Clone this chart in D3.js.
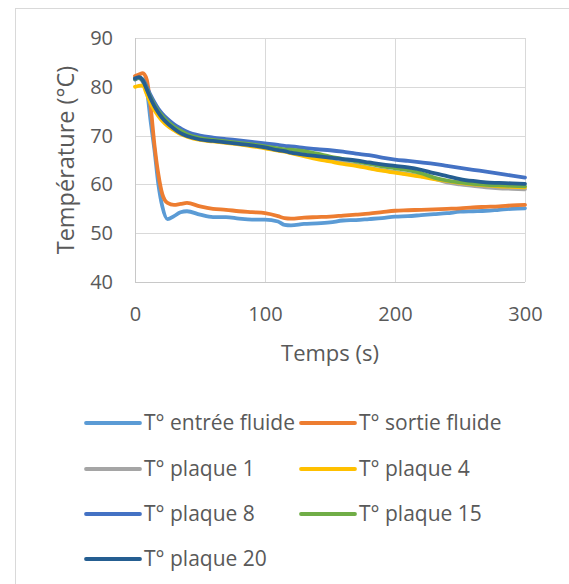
<!DOCTYPE html>
<html><head><meta charset="utf-8">
<script src="https://cdn.jsdelivr.net/npm/d3@7"></script>
<style>
body{margin:0;background:#fff;}
text{font-family:"Open Sans","Noto Sans",sans-serif;fill:#595959;}
</style></head>
<body><svg id="c" width="569" height="584"></svg>
<script>
const times = [0,3,6,9,12,15,18,21,25,30,35,40,50,60,70,80,90,100,110,115,120,130,140,150,160,170,180,190,200,210,220,230,240,250,260,270,280,290,300];
const entreeFluide = [81.8,82,81.5,79.5,73,67,60,55.5,52.9,53.5,54.3,54.5,53.8,53.3,53.3,53.0,52.8,52.8,52.4,51.7,51.6,51.9,52.0,52.2,52.6,52.7,52.9,53.1,53.4,53.5,53.7,53.9,54.1,54.4,54.5,54.6,54.8,55.0,55.1];
const sortieFluide = [82.2,82.5,82.8,81.5,76,68,62,58,56.2,55.8,56.0,56.2,55.5,55.0,54.8,54.5,54.3,54.1,53.5,53.1,53.0,53.2,53.3,53.4,53.6,53.8,54.0,54.3,54.6,54.7,54.8,54.9,55.0,55.1,55.3,55.4,55.5,55.7,55.8];
const plaque1 = [81.7,81.8,81,79,77.2,75.8,74.6,73.6,72.5,71.5,70.6,70.0,69.2,68.9,68.6,68.3,68.0,67.5,67.0,66.8,66.5,66.0,65.4,64.8,64.4,64.0,63.4,62.9,62.5,62.1,61.7,61.2,60.4,60.0,59.7,59.4,59.2,59.1,59.0];
const plaque4 = [80,80.2,80.3,78.5,76.6,75.2,74,73,72,71.1,70.3,69.8,69.1,68.8,68.5,68.2,67.8,67.4,66.9,66.7,66.4,65.8,65.2,64.7,64.2,63.8,63.3,62.8,62.4,62.0,61.6,61.1,60.7,60.3,60.0,59.8,59.6,59.5,59.4];
const plaque8 = [81.5,81.8,81.5,80,78.3,76.8,75.5,74.5,73.4,72.3,71.5,70.8,70.0,69.6,69.3,69.0,68.7,68.4,68.1,67.9,67.8,67.5,67.2,67.0,66.7,66.3,66.0,65.5,65.1,64.8,64.5,64.2,63.8,63.4,63.0,62.6,62.2,61.8,61.4];
const plaque15 = [81.6,81.9,81.3,79.6,77.8,76.3,75,74,72.9,71.8,71,70.3,69.5,69.1,68.8,68.5,68.2,67.8,67.4,67.2,67.1,66.8,66.3,65.7,65.2,64.7,64.2,63.7,63.3,62.9,62.3,61.4,60.8,60.4,60.1,59.9,59.8,59.7,59.6];
const plaque20 = [81.7,82,81.3,79.5,77.6,76,74.7,73.6,72.5,71.4,70.5,69.9,69.2,68.9,68.6,68.3,68.0,67.6,67.0,66.8,66.5,66.1,65.8,65.5,65.2,64.9,64.5,64.1,63.8,63.5,63.0,62.3,61.7,61.1,60.7,60.4,60.3,60.2,60.1];
const seriesNames = ["T° entrée fluide","T° sortie fluide","T° plaque 1","T° plaque 4","T° plaque 8","T° plaque 15","T° plaque 20"];
const seriesValues = [entreeFluide,sortieFluide,plaque1,plaque4,plaque8,plaque15,plaque20];
const colors = ["#5B9BD5","#ED7D31","#A5A5A5","#FFC000","#4472C4","#70AD47","#255E91"];
const xTicks = [0,100,200,300];
const yTicks = [40,50,60,70,80,90];
const xTitle = "Temps (s)";
const yTitle = "Température (°C)";

const svg = d3.select("#c");
svg.append("rect").attr("x",15.5).attr("y",8.5).attr("width",600).attr("height",600)
  .attr("fill","#fff").attr("stroke","#d9d9d9").attr("stroke-width",1);

const L=135, R=525, T=38, B=282;
const x = d3.scaleLinear().domain([0,300]).range([L,R]);
const y = d3.scaleLinear().domain([40,90]).range([B,T]);

const g = svg.append("g");
g.selectAll(".gy").data(yTicks).join("line")
  .attr("x1",L).attr("x2",R).attr("y1",d=>Math.round(y(d))+0.5).attr("y2",d=>Math.round(y(d))+0.5)
  .attr("stroke","#d9d9d9").attr("stroke-width",1);
g.selectAll(".gx").data(xTicks).join("line")
  .attr("y1",T).attr("y2",B).attr("x1",d=>Math.round(x(d))+0.5).attr("x2",d=>Math.round(x(d))+0.5)
  .attr("stroke","#d9d9d9").attr("stroke-width",1);
g.append("line").attr("x1",L+0.5).attr("x2",L+0.5).attr("y1",T).attr("y2",B).attr("stroke","#c8c8c8");
g.append("line").attr("x1",L).attr("x2",R).attr("y1",B+0.5).attr("y2",B+0.5).attr("stroke","#c8c8c8");

const yAxis = d3.axisLeft(y).tickValues(yTicks).tickSize(0).tickPadding(22);
const ya = svg.append("g").attr("transform",`translate(${L},0)`).call(yAxis);
const xAxis = d3.axisBottom(x).tickValues(xTicks).tickSize(0).tickPadding(25);
const xa = svg.append("g").attr("transform",`translate(0,${B})`).call(xAxis);
[ya,xa].forEach(a=>{a.select(".domain").remove();a.selectAll("text").style("font-size","20px").attr("fill","#595959");});

const line = d3.line().x((d,i)=>x(times[i])).y(d=>y(d)).curve(d3.curveMonotoneX);
svg.append("g").selectAll("path").data(seriesValues).join("path")
  .attr("d",d=>line(d)).attr("fill","none").attr("stroke",(d,i)=>colors[i])
  .attr("stroke-width",3.8).attr("stroke-linejoin","round").attr("stroke-linecap","round");

svg.append("text").attr("x",(L+R)/2).attr("y",361).attr("text-anchor","middle")
  .style("font-size","22px").text(xTitle);
svg.append("text").attr("transform",`translate(74,160) rotate(-90)`).attr("text-anchor","middle")
  .style("font-size","23.5px").text(yTitle);

const colX=[86,301], rowY=[423,469,514,559];
const lg = svg.append("g").selectAll("g").data(seriesNames).join("g")
  .attr("transform",(d,i)=>`translate(${colX[i%2]},${rowY[Math.floor(i/2)]})`);
lg.append("line").attr("x1",0).attr("x2",54).attr("y1",0).attr("y2",0)
  .attr("stroke",(d,i)=>colors[i]).attr("stroke-width",3.8).attr("stroke-linecap","round");
lg.append("text").attr("x",58).attr("y",0).attr("dy","0.35em").style("font-size","21px").text(d=>d);
</script></body></html>
